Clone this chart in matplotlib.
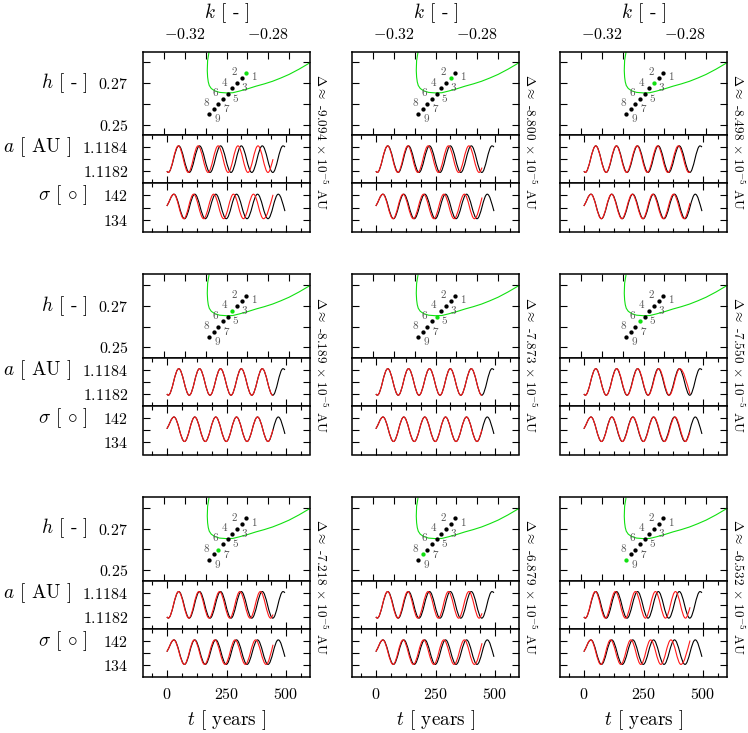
import matplotlib
matplotlib.use('Agg')
import matplotlib.pyplot as plt
from matplotlib.path import Path
from matplotlib.patches import PathPatch

plt.rcParams['mathtext.fontset'] = 'cm'
plt.rcParams['font.family'] = 'serif'
plt.rcParams['font.serif'] = ['cmr10', 'DejaVu Serif']
plt.rcParams['axes.unicode_minus'] = False

# ---- data ----
delta_vals = ['-9.094', '-8.800', '-8.498', '-8.189', '-7.873', '-7.550', '-7.218', '-6.879', '-6.532']

# grid of initial conditions in the (k, h) plane
dot_k = [-0.2906, -0.2927, -0.2952, -0.2973, -0.2995, -0.3018, -0.3040, -0.3062, -0.3084]
dot_h = [0.2749, 0.2724, 0.2699, 0.2674, 0.2648, 0.2625, 0.2598, 0.2576, 0.2549]

# green curve in the (k, h) plane
green_k = [-0.30841, -0.30905, -0.30921, -0.30905, -0.30873, -0.30825, -0.30730, -0.30571,
           -0.30333, -0.30016, -0.29698, -0.29381, -0.28984, -0.28587, -0.28190, -0.27794,
           -0.27397, -0.27000, -0.26524, -0.26000]
green_h = [0.28464, 0.28071, 0.27599, 0.27284, 0.27049, 0.26876, 0.26734, 0.26624,
           0.26546, 0.26522, 0.26530, 0.26608, 0.26718, 0.26844, 0.26954, 0.27080,
           0.27237, 0.27410, 0.27662, 0.27970]

# extreme levels of a and sigma
a_lo, a_hi = 1.11819, 1.11841
s_lo, s_hi = 134.3, 142.4

# black curve (same in every panel): times of extrema
blk_a_t = [6, 50, 94, 137, 181, 225, 269, 312, 356, 400, 444, 487]
blk_a_start, blk_a_end = (0, 1.11820), (495, 1.11840)
blk_s_t = [30, 74, 117, 161, 205, 249, 292, 336, 380, 424, 467]
blk_s_start, blk_s_end = (0, 138.5), (495, 136.8)

# red curves, per panel: times of extrema (a starts with a trough, sigma with a peak)
red_a_t = [
    [6, 48, 90, 131, 173, 215, 257, 298, 340, 382, 424],
    [6, 49, 92, 134, 176, 219, 262, 304, 347, 390, 433],
    [6, 50, 93, 136, 179, 223, 266, 309, 352, 396, 440],
    [6, 50, 94, 137, 181, 225, 269, 312, 356, 400, 444],
    [6, 50, 94, 137, 181, 225, 269, 312, 356, 400, 444],
    [6, 50, 94, 138, 182, 226, 270, 314, 358, 402],
    [6, 49, 92, 134, 177, 221, 264, 306, 349, 392, 435],
    [6, 49, 92, 134, 176, 219, 262, 304, 347, 390, 433],
    [6, 48, 90, 132, 174, 216, 258, 300, 342, 384, 426],
]
red_a_end = [1.11830, 1.11823, 1.11820, 1.11819, 1.11819, 1.11820, 1.11822, 1.11823, 1.11828]
red_s_t = [
    [29, 71, 112, 154, 196, 238, 279, 321, 363, 405],
    [29, 72, 114, 157, 200, 243, 285, 328, 371, 413],
    [30, 73, 116, 159, 203, 247, 289, 333, 376, 420],
    [30, 74, 117, 161, 205, 249, 292, 336, 380, 424],
    [30, 74, 117, 161, 205, 249, 292, 336, 380, 424],
    [30, 74, 118, 162, 206, 250, 293, 338, 382, 426],
    [29, 73, 115, 158, 201, 244, 286, 329, 372, 416],
    [29, 72, 114, 157, 200, 243, 285, 328, 371, 413],
    [29, 71, 112, 155, 197, 239, 280, 323, 365, 407],
]
red_s_end = [142.2, 141.3, 139.5, 138.3, 138.3, 137.6, 140.8, 141.3, 142.2]
red_t_end = 445


def levels(n, first_lo, lo, hi):
    out = []
    for i in range(n):
        low = (i % 2 == 0) == first_lo
        out.append(lo if low else hi)
    return out


def smooth_path(ts, vs):
    # cubic Bezier through the extrema, flat at each extremum
    verts = [(ts[0], vs[0])]
    codes = [Path.MOVETO]
    n = len(ts)
    for i in range(n - 1):
        t0, v0, t1, v1 = ts[i], vs[i], ts[i + 1], vs[i + 1]
        dt = t1 - t0
        if i == 0:
            c1 = (t0 + dt / 3, v0 + (v1 - v0) * 0.3)
        else:
            c1 = (t0 + 0.364 * dt, v0)
        if i == n - 2:
            c2 = (t1 - dt / 3, v1 + (v0 - v1) * 0.45)
        else:
            c2 = (t1 - 0.364 * dt, v1)
        verts += [c1, c2, (t1, v1)]
        codes += [Path.CURVE4] * 3
    return Path(verts, codes)


def draw_curve(ax, start, ext_t, first_lo, lo, hi, end, color):
    ts = [start[0]] + list(ext_t) + [end[0]]
    vs = [start[1]] + levels(len(ext_t), first_lo, lo, hi) + [end[1]]
    ax.add_patch(PathPatch(smooth_path(ts, vs), fill=False, edgecolor=color, lw=0.8))


# ---- layout (pixels) ----
W, H = 748, 733
fig = plt.figure(figsize=(W / 100, H / 100), dpi=100)
col_x = [143, 352, 560]
row_y = [51.7, 274.5, 497.4]
pw = 167
hk_h, a_h, s_h = 83.3, 48.3, 48.4
lab_fs = 13.8


def add_ax(x, y, w, h):
    return fig.add_axes([x / W, 1 - (y + h) / H, w / W, h / H])


def style(ax):
    for sp in ax.spines.values():
        sp.set_linewidth(1.1)
    ax.tick_params(which='both', direction='in', top=True, right=True, width=0.8,
                   labelsize=11.5)
    ax.tick_params(which='major', length=5)
    ax.tick_params(which='minor', length=3)


t_major = [0, 250, 500]
t_minor = [-62.5, 62.5, 125, 187.5, 312.5, 375, 437.5, 562.5]

for p in range(9):
    r, c = divmod(p, 3)
    x0, y0 = col_x[c], row_y[r]
    ax1 = add_ax(x0, y0, pw, hk_h)
    ax2 = add_ax(x0, y0 + hk_h, pw, a_h)
    ax3 = add_ax(x0, y0 + hk_h + a_h, pw, s_h)
    for ax in (ax1, ax2, ax3):
        style(ax)

    # (k, h) panel
    ax1.set_xlim(-0.34, -0.26)
    ax1.set_ylim(0.245, 0.285)
    ax1.plot(green_k, green_h, color='#10e010', lw=0.8, clip_on=True)
    for i in range(9):
        col = '#10e010' if i == p else 'black'
        ax1.plot(dot_k[i], dot_h[i], 'o', color=col, ms=3.1, mec='none', zorder=3)
        off = (5.8, -3.6) if i % 2 == 0 else (-5.4, 4.0)
        ax1.annotate(str(i + 1), (dot_k[i], dot_h[i]), xytext=off,
                     textcoords='offset points', ha='center', va='center',
                     fontsize=8, color='#555555')
    ax1.set_xticks([-0.33, -0.32, -0.31, -0.30, -0.29, -0.28, -0.27])
    ax1.set_xticklabels(['', '$-0.32$', '', '', '', '$-0.28$', ''])
    ax1.set_yticks([0.25, 0.26, 0.27, 0.28])
    ax1.set_yticklabels(['$0.25$', '', '$0.27$', ''])
    ax1.tick_params(labelbottom=False, labeltop=(r == 0), labelleft=(c == 0), pad=7)
    ax1.tick_params(axis='y', pad=10.5)

    # a panel
    ax2.set_xlim(-100, 600)
    ax2.set_ylim(1.1181, 1.1185)
    draw_curve(ax2, blk_a_start, blk_a_t, True, a_lo, a_hi, blk_a_end, 'black')
    draw_curve(ax2, blk_a_start, red_a_t[p], True, a_lo, a_hi,
               (red_t_end, red_a_end[p]), '#ff1a1a')
    ax2.set_yticks([1.1182, 1.1183, 1.1184])
    ax2.set_yticklabels(['$1.1182$', '', '$1.1184$'])

    # sigma panel
    ax3.set_xlim(-100, 600)
    ax3.set_ylim(130, 146)
    draw_curve(ax3, blk_s_start, blk_s_t, False, s_lo, s_hi, blk_s_end, 'black')
    draw_curve(ax3, blk_s_start, red_s_t[p], False, s_lo, s_hi,
               (red_t_end, red_s_end[p]), '#ff1a1a')
    ax3.set_yticks([134, 138, 142])
    ax3.set_yticklabels(['$134$', '', '$142$'])

    for ax in (ax2, ax3):
        ax.set_xticks(t_major)
        ax.set_xticks(t_minor, minor=True)
        ax.set_xticklabels(['$0$', '$250$', '$500$'])
        ax.tick_params(labelbottom=False, labelleft=(c == 0), pad=10.5)
    ax3.tick_params(labelbottom=(r == 2))
    ax3.tick_params(axis='x', pad=7)

    # Delta label to the right of each panel
    fig.text((x0 + pw + 10.7) / W, 1 - (y0 + 90) / H,
             r'$\Delta \approx$ ' + delta_vals[p] + r' $\times$ $10^{-5}$ AU',
             rotation=270, ha='center', va='center', fontsize=9.5)

    # row labels
    if c == 0:
        fig.text(88 / W, 1 - (y0 + 31.2) / H, r'$h$ [ - ]', ha='right', va='center', fontsize=lab_fs)
        fig.text(71 / W, 1 - (y0 + 95.4) / H, r'$a$ [ AU ]', ha='right', va='center', fontsize=lab_fs)
        fig.text(88 / W, 1 - (y0 + 143.7) / H, r'$\sigma$ [ $\circ$ ]', ha='right', va='center', fontsize=lab_fs)
    if r == 0:
        fig.text((x0 + pw / 2) / W, 1 - 13.3 / H, r'$k$ [ - ]', ha='center', va='center', fontsize=lab_fs)
    if r == 2:
        fig.text((x0 + pw / 2) / W, 1 - 720 / H, r'$t$ [ years ]', ha='center', va='center', fontsize=lab_fs)

fig.savefig('out.png', dpi=100)
